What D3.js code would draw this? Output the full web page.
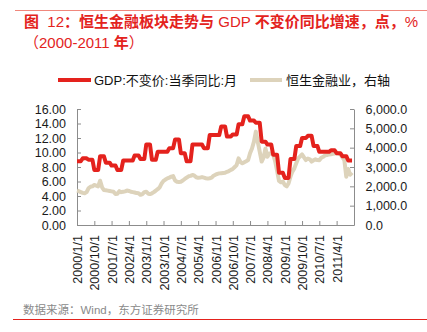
<!DOCTYPE html>
<html><head><meta charset="utf-8">
<script src="https://cdn.jsdelivr.net/npm/d3@7/dist/d3.min.js"></script>
<style>
body{margin:0;background:#fff;}
svg{display:block;font-family:"Liberation Sans",Arial,"Noto Sans CJK SC",sans-serif;}
.pre{white-space:pre;}
</style></head><body>
<svg id="c" width="427" height="332"></svg>
<script>
// ---- data ----
// title pieces: [text, bold?]
const title1 = [["图",1],["  12",0],["：恒生金融板块走势与",1],[" GDP ",0],["不变价同比增速，点，",1],["%",0]];
const title2 = [["（",0],["2000-2011 ",0],["年",1],["）",0]];
const source = "数据来源：Wind，东方证券研究所";
const seriesNames = ["GDP:不变价:当季同比:月", "恒生金融业，右轴"];
const startMonth = "2000/1/1";
const xTickLabels = ["2000/1/1","2000/10/1","2001/7/1","2002/4/1","2003/1/1","2003/10/1","2004/7/1","2005/4/1","2006/1/1","2006/10/1","2007/7/1","2008/4/1","2009/1/1","2009/10/1","2010/7/1","2011/4/1"];
const leftTicks = [0,2,4,6,8,10,12,14,16];
const rightTicks = [0,1000,2000,3000,4000,5000,6000];
// monthly, 2000/1 .. 2011/12
const gdp = [
 8.8,8.8,8.8, 9.2,9.2,9.2, 9.0,9.0,9.0, 7.6,7.6,7.6,
 9.5,9.5,9.5, 8.6,8.6,8.6, 8.2,8.2,8.2, 7.6,7.6,7.6,
 8.9,8.9,8.9, 8.9,8.9,8.9, 9.6,9.6,9.6, 9.1,9.1,9.1,
 11.1,11.1,11.1, 9.0,9.0,9.0, 10.1,10.1,10.1, 10.1,10.1,10.1,
 10.6,10.6,10.6, 11.8,11.8,11.8, 9.9,9.9,9.9, 8.8,8.8,8.8,
 11.1,11.1,11.1, 11.1,11.1,11.1, 10.6,10.6,10.6, 12.4,12.4,12.4,
 12.4,12.4,12.4, 13.6,13.6,13.6, 12.2,12.2,12.2, 12.5,12.5,12.5,
 13.9,13.9,13.9, 15.0,15.0,15.0, 14.4,14.4,14.4, 14.1,14.1,14.1,
 11.5,11.5,11.5, 11.1,11.1,11.1, 9.7,9.7,9.7, 7.2,7.2,7.2,
 6.5,6.5,6.5, 9.1,9.1,9.1, 10.9,10.9,10.9, 12.0,12.0,12.0,
 12.3,12.3,12.3, 10.9,10.9,10.9, 10.1,10.1,10.1, 10.1,10.1,10.1,
 10.3,10.3,10.3, 9.9,9.9,9.9, 9.5,9.5,9.5, 8.9,8.9,8.9
];
const hsfi = [
 1780,1750,1700,1660,1640,1700,1900,1980,2000,2070,2040,2000,
 2290,1950,1810,1800,1780,1760,1740,1720,1600,1620,1750,1700,
 1720,1740,1780,1760,1720,1700,1680,1650,1640,1560,1600,1700,
 1720,1620,1600,1640,1700,1780,1850,1950,2150,2280,2350,2410,
 2450,2500,2530,2300,2240,2230,2240,2300,2380,2450,2520,2540,
 2590,2550,2470,2440,2450,2480,2450,2420,2400,2420,2450,2550,
 2600,2640,2670,2680,2690,2700,2750,2790,2850,2900,3000,3100,
 3450,3250,3190,3250,3300,3360,3710,3960,4310,4830,4300,3790,
 3280,3500,3960,3530,3700,3700,3650,3300,2800,2280,2210,2250,
 2070,2000,2150,2500,2760,2930,3190,3450,3550,3650,3500,3360,
 3440,3400,3280,3350,3400,3360,3350,3480,3530,3600,3620,3650,
 3660,3680,3700,3710,3710,3650,3500,3360,2500,2900,2600,2710
];

// ---- layout ----
const svg = d3.select("#c");
const X0 = 77, X1 = 354, Y0 = 225, Y1 = 109;
const fmtParse = d3.timeParse("%Y/%m/%d");
const t0 = fmtParse(startMonth);
const dates = gdp.map((d,i)=>d3.timeMonth.offset(t0,i));
const tEnd = d3.timeMonth.offset(t0, gdp.length);
const x = d3.scaleTime().domain([t0,tEnd]).range([X0,X1]);
const yL = d3.scaleLinear().domain([0,16]).range([Y0,Y1]);
const yR = d3.scaleLinear().domain([0,6000]).range([Y0,Y1]);

const RED = "#e4221d", BEIGE = "#ddd3bb", AX = "#8c8c8c", TRED = "#e3231d";

// top & bottom rules, title
svg.append("line").attr("x1",15).attr("x2",427).attr("y1",10.5).attr("y2",10.5).attr("stroke","#f0877c").attr("stroke-width",1);
function titleLine(parts, y){
  const t = svg.append("text").attr("class","pre").attr("x",24).attr("y",y).attr("fill",TRED).attr("font-size",15);
  t.selectAll("tspan").data(parts).join("tspan").attr("font-weight",d=>d[1]?"bold":"normal").text(d=>d[0]);
}
titleLine(title1, 27);
titleLine(title2, 48);
svg.append("line").attr("x1",13).attr("x2",427).attr("y1",319.5).attr("y2",319.5).attr("stroke",RED).attr("stroke-width",1.2);
svg.append("text").attr("x",23).attr("y",314).attr("fill","#8a8a8a").attr("font-size",11.5).text(source);

// legend
const lg = svg.append("g");
lg.append("line").attr("x1",58).attr("x2",91).attr("y1",80).attr("y2",80).attr("stroke",RED).attr("stroke-width",4);
lg.append("text").attr("x",94).attr("y",84.5).attr("font-size",13).attr("fill","#111").text(seriesNames[0]);
lg.append("line").attr("x1",250).attr("x2",282).attr("y1",80).attr("y2",80).attr("stroke",BEIGE).attr("stroke-width",4);
lg.append("text").attr("x",286).attr("y",84.5).attr("font-size",13).attr("fill","#111").text(seriesNames[1]);

// axes
function styleAxis(g){
  g.selectAll(".domain").attr("stroke",AX);
  g.selectAll(".tick line").attr("stroke",AX);
  g.selectAll("text").attr("fill","#1a1a1a").attr("font-size",12.5).attr("font-family","'Liberation Sans',Arial,sans-serif");
}
const gl = svg.append("g").attr("transform",`translate(${X0},0)`)
  .call(d3.axisLeft(yL).tickValues(leftTicks).tickFormat(d3.format(".2f")).tickSizeInner(-4).tickSizeOuter(0).tickPadding(11));
styleAxis(gl);
const gr = svg.append("g").attr("transform",`translate(${X1},0)`)
  .call(d3.axisRight(yR).tickValues(rightTicks).tickFormat(d3.format(",.1f")).tickSizeInner(-4).tickSizeOuter(0).tickPadding(11.5));
styleAxis(gr);
const gb = svg.append("g").attr("transform",`translate(0,${Y0})`)
  .call(d3.axisBottom(x).tickValues(xTickLabels.map(fmtParse)).tickFormat((d,i)=>xTickLabels[i]).tickSizeInner(-4).tickSizeOuter(0));
styleAxis(gb);
gb.selectAll(".tick text").attr("transform","rotate(-90)").attr("x",-10).attr("y",0).attr("dy","0.36em").attr("text-anchor","end");

// lines
const lineR = d3.line().x((d,i)=>x(dates[i])).y(d=>yR(d));
const lineL = d3.line().x((d,i)=>x(dates[i])).y(d=>yL(d));
svg.append("path").datum(hsfi).attr("d",lineR).attr("fill","none").attr("stroke",BEIGE).attr("stroke-width",4).attr("stroke-linejoin","round");
svg.append("path").datum(gdp).attr("d",lineL).attr("fill","none").attr("stroke",RED).attr("stroke-width",4).attr("stroke-linejoin","round");
</script>
</body></html>
